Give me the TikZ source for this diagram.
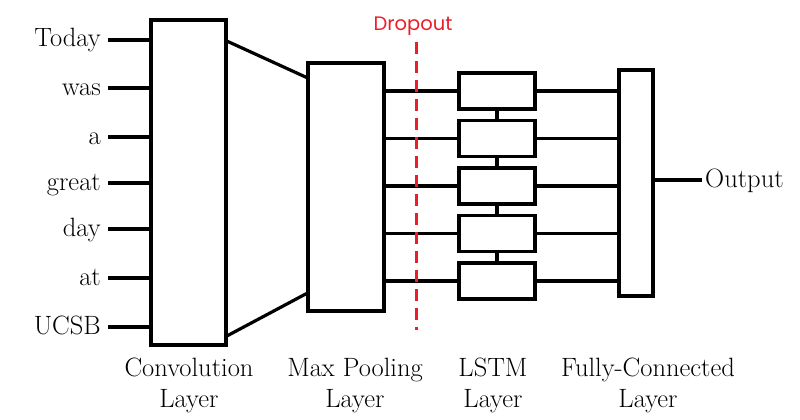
\documentclass[tikz,border=0pt]{standalone}
\usepackage{fontspec}
\newfontfamily\dropfont{Poppins}
\usetikzlibrary{calc}
\definecolor{dropred}{RGB}{235,30,40}
\tikzset{
  box/.style={draw, line width=3.2pt, fill=white, inner sep=0pt, rectangle},
  wire/.style={line width=3.2pt},
  word/.style={inner sep=0pt, anchor=base east, font=\fontsize{26.5}{31}\selectfont},
  lab/.style={inner sep=0pt, align=center, anchor=north, font=\fontsize{26.5}{31}\selectfont},
  dropline/.style={draw=dropred, line width=3pt, dash pattern=on 12pt off 7pt},
}
\begin{document}
\begin{tikzpicture}[x=1pt,y=-1pt]
\useasboundingbox[fill=white] (0,0) rectangle (800,420);
% boxes
\node[box, minimum width=75pt, minimum height=325pt] (conv) at (188.5,182.5) {};
\node[box, minimum width=76pt, minimum height=248pt] (mp) at (346,187) {};
\node[box, minimum width=76pt, minimum height=36pt] (l1) at (497,91) {};
\node[box, minimum width=76pt, minimum height=36pt] (l2) at (497,138.5) {};
\node[box, minimum width=76pt, minimum height=36pt] (l3) at (497,186) {};
\node[box, minimum width=76pt, minimum height=36pt] (l4) at (497,233.5) {};
\node[box, minimum width=76pt, minimum height=36pt] (l5) at (497,281) {};
\node[box, minimum width=34pt, minimum height=226pt] (fc) at (636,183) {};
% input words
\foreach \w/\y/\n in {Today/40/w1, was/88/w2, a/137/w3, great/183/w4, day/229/w5, at/278/w6, UCSB/327/w7}{
  \node[word] (\n) at (101,\y+7) {\w};
  \coordinate (\n c) at (108,\y);
  \draw[wire] (\n c) -- (conv.west |- \n c);
}
% conv to max pooling
\draw[wire] ($(conv.north east)+(0,23)$) -- ($(mp.north west)+(0,16)$);
\draw[wire] ($(conv.south east)+(0,-11)$) -- ($(mp.south west)+(0,-19)$);
% max pooling to LSTM
\foreach \n in {l1,l2,l3,l4,l5}{
  \draw[wire] (mp.east |- \n.west) -- (\n.west);
  \draw[wire] (\n.east) -- (fc.west |- \n.east);
}
% LSTM chain
\draw[wire] (l1.south) -- (l2.north);
\draw[wire] (l2.south) -- (l3.north);
\draw[wire] (l3.south) -- (l4.north);
\draw[wire] (l4.south) -- (l5.north);
% output
\coordinate (outc) at (702,180);
\draw[wire] (fc.east |- outc) -- (outc);
\node[word, anchor=base west] (out) at (705,187) {Output};
% dropout
\coordinate (dtop) at (416,42);
\coordinate (dbot) at (416,330);
\draw[dropline] (dtop) -- (dbot);
\node[inner sep=0pt, text=dropred, font=\dropfont\fontsize{19.5}{22}\selectfont] (drop) at (413,26) {Dropout};
% layer labels
\node[lab] (lconv) at (189,358) {Convolution\\Layer};
\node[lab] (lmp) at (355,358) {Max Pooling\\Layer};
\node[lab] (llstm) at (493,358) {LSTM\\Layer};
\node[lab] (lfc) at (648,358) {Fully-Connected\\Layer};
\end{tikzpicture}
\end{document}
